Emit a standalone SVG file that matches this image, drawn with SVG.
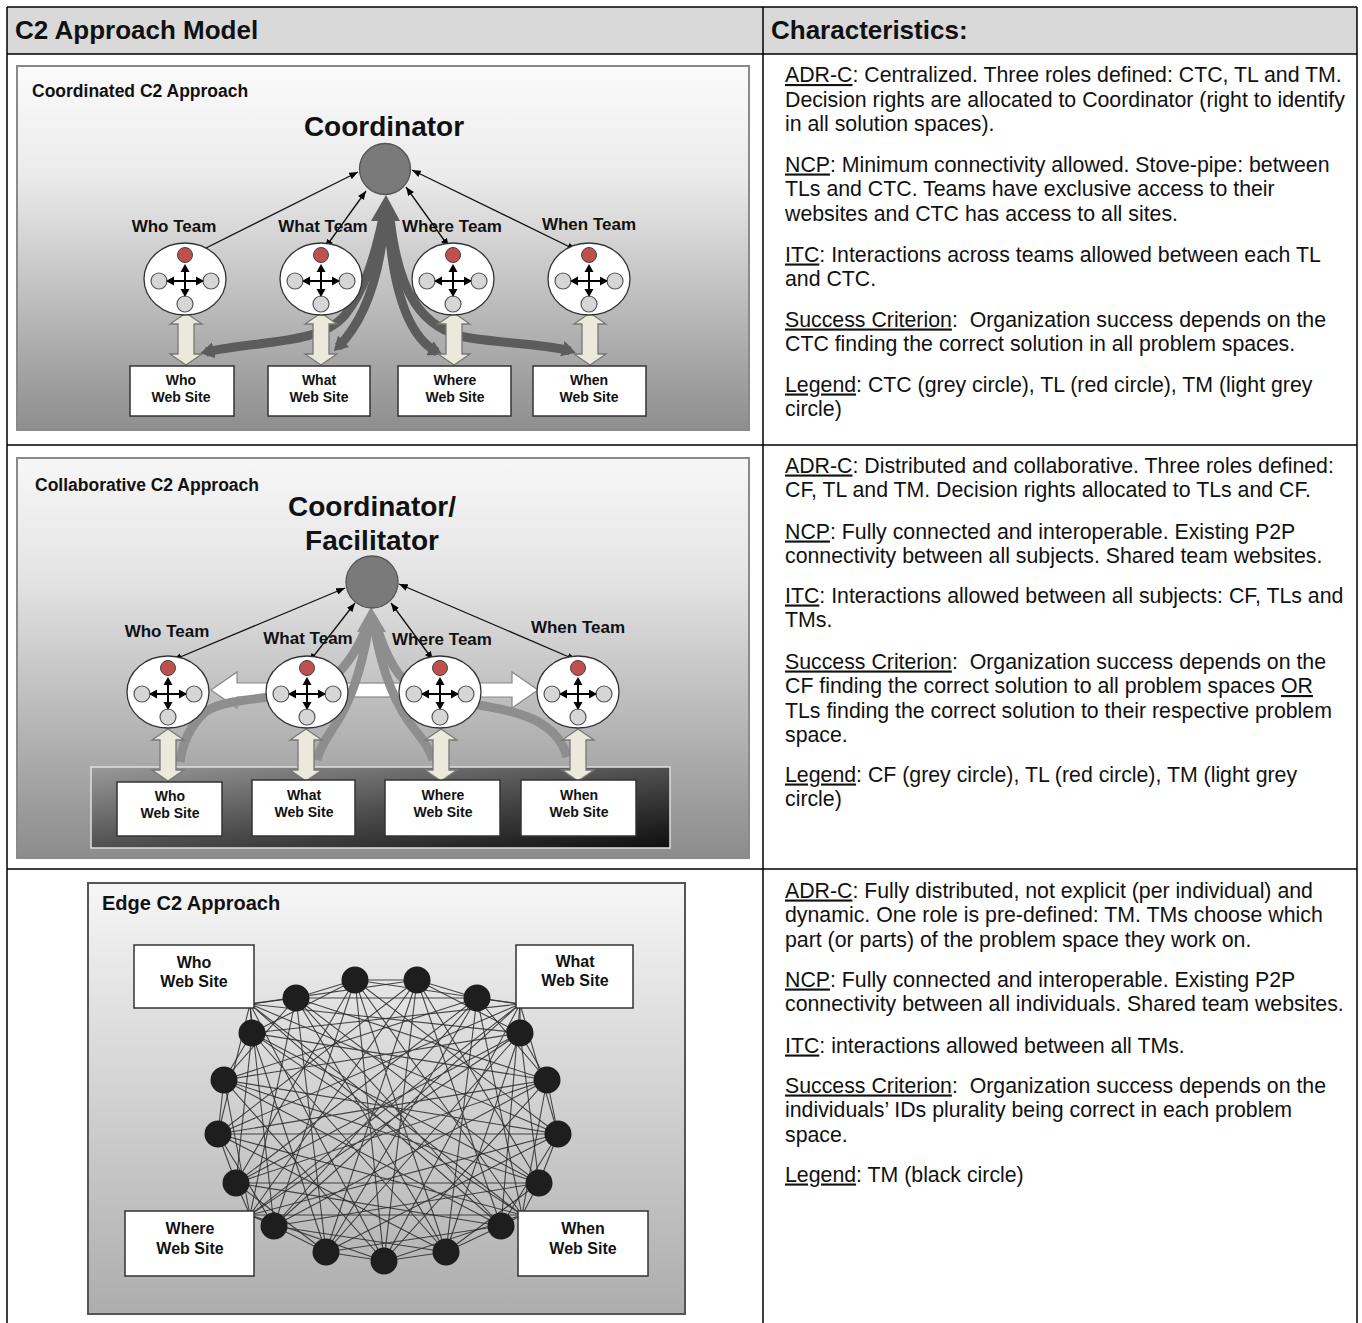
<svg xmlns="http://www.w3.org/2000/svg" xmlns:xlink="http://www.w3.org/1999/xlink" width="1362" height="1323" viewBox="0 0 1362 1323">
<style>
  .hdr{font-family:"Liberation Sans",Arial,sans-serif;font-weight:bold;font-size:26px;fill:#111}
  .body{font-family:"Liberation Sans",Arial,sans-serif;font-size:21.3px;fill:#111}
  .u{text-decoration:underline}
  .ttl{font-family:"Liberation Sans",Arial,sans-serif;font-weight:bold;font-size:17.5px;fill:#111}
  .big{font-family:"Liberation Sans",Arial,sans-serif;font-weight:bold;font-size:28px;fill:#111;text-anchor:middle}
  .team{font-family:"Liberation Sans",Arial,sans-serif;font-weight:bold;font-size:17px;fill:#111;text-anchor:middle}
  .site{font-family:"Liberation Sans",Arial,sans-serif;font-weight:bold;font-size:14px;fill:#111;text-anchor:middle}
  .site3{font-family:"Liberation Sans",Arial,sans-serif;font-weight:bold;font-size:16px;fill:#111;text-anchor:middle}
  .box{fill:#fff;stroke:#333;stroke-width:1.5}
  .tm{fill:#d6d6d6;stroke:#555;stroke-width:1.2}
  .thin{fill:none;stroke:#111;stroke-width:1.3;marker-start:url(#ah);marker-end:url(#ah)}
  .band1{fill:none;stroke:#5c5c5c;stroke-width:9}
  .band2{fill:none;stroke:#8e8e8e;stroke-width:9}
  .web{fill:none;stroke:#2a2a2a;stroke-width:1.1;stroke-opacity:0.85;stroke-linejoin:round}
  .tmb{fill:#1e1e1e}
  .grid{stroke:#000;stroke-width:1.5;fill:none}
</style>
<defs>
  <linearGradient id="g1" x1="0" y1="0" x2="0" y2="1">
    <stop offset="0" stop-color="#fbfbfb"/><stop offset="0.3" stop-color="#ebebeb"/><stop offset="1" stop-color="#8e8e8e"/>
  </linearGradient>
  <linearGradient id="g2" x1="0" y1="0" x2="0" y2="1">
    <stop offset="0" stop-color="#f7f7f7"/><stop offset="0.3" stop-color="#e4e4e4"/><stop offset="1" stop-color="#8c8c8c"/>
  </linearGradient>
  <linearGradient id="g3" x1="0" y1="0" x2="0" y2="1">
    <stop offset="0" stop-color="#f6f6f6"/><stop offset="1" stop-color="#adadad"/>
  </linearGradient>
  <linearGradient id="gp" x1="0" y1="0" x2="1" y2="1">
    <stop offset="0" stop-color="#9a9a9a"/><stop offset="0.5" stop-color="#505050"/><stop offset="1" stop-color="#0e0e0e"/>
  </linearGradient>
  <marker id="ah" viewBox="0 0 10 8" refX="10" refY="4" markerWidth="9" markerHeight="7" markerUnits="userSpaceOnUse" orient="auto-start-reverse">
    <path d="M0,0 L10,4 L0,8 Z" fill="#000"/>
  </marker>
  <marker id="bh" viewBox="0 0 14 16" refX="8" refY="8" markerWidth="14" markerHeight="16" markerUnits="userSpaceOnUse" orient="auto">
    <path d="M0,0 L14,8 L0,16 Z" fill="#5c5c5c"/>
  </marker>
  <g id="teamT">
    <ellipse rx="41" ry="36" fill="#fff" stroke="#333" stroke-width="1.3"/>
    <circle cx="0" cy="-24" r="7.5" fill="#c0504d" stroke="#444" stroke-width="1"/>
    <circle cx="-26" cy="2" r="8" class="tm"/>
    <circle cx="26" cy="2" r="8" class="tm"/>
    <circle cx="0" cy="25" r="8" class="tm"/>
    <path d="M-12,2 H12 M0,-9 V13" stroke="#000" stroke-width="2"/>
    <path d="M-19,2 L-11,-2.5 L-11,6.5 Z M19,2 L11,-2.5 L11,6.5 Z M0,-15 L-4.5,-7 L4.5,-7 Z M0,18 L-4.5,10 L4.5,10 Z" fill="#000"/>
  </g>
  <path id="dblv" d="M0,0 L16,11 L8,11 L8,41 L16,41 L0,52 L-16,41 L-8,41 L-8,11 L-16,11 Z" fill="#ebe8dc" stroke="#777" stroke-width="1.3"/>
</defs>

<rect width="1362" height="1323" fill="#fff"/>

<!-- table -->
<g id="table">
  <rect x="7" y="7" width="1350" height="47" fill="#d9d9d9"/>
  <path class="grid" d="M7,7 H1357 M7,54 H1357 M7,445 H1357 M7,869 H1357 M7,7 V1330 M763,7 V1330 M1357,7 V1330"/>
  <text class="hdr" x="15" y="39">C2 Approach Model</text>
  <text class="hdr" x="771" y="39">Characteristics:</text>
</g>

<!-- Diagram 1: Coordinated -->
<g id="coordinated">
  <rect x="17" y="66" width="732" height="364" fill="url(#g1)" stroke="#8a8a8a" stroke-width="2"/>
  <text class="ttl" x="32" y="97">Coordinated C2 Approach</text>
  <text class="big" x="384" y="136">Coordinator</text>
  <g id="c1-connectors">
    <path class="band1" d="M383,218 C375,255 365,290 345,315 C320,345 260,340 206,352" marker-end="url(#bh)"/>
    <path class="band1" d="M385,218 C380,275 365,320 338,347" marker-end="url(#bh)"/>
    <path class="band1" d="M388,218 C392,280 405,335 437,352" marker-end="url(#bh)"/>
    <path class="band1" d="M390,218 C398,290 420,330 470,338 C520,345 550,345 570,351" marker-end="url(#bh)"/>
    <polygon points="371,221 400,221 386,195" fill="#5c5c5c"/>
    <line class="thin" x1="358" y1="172" x2="196" y2="253"/>
    <line class="thin" x1="366" y1="191" x2="325" y2="248"/>
    <line class="thin" x1="406" y1="187" x2="449" y2="247"/>
    <line class="thin" x1="412" y1="170" x2="576" y2="250"/>
    <use href="#dblv" x="186" y="313"/>
    <use href="#dblv" x="321" y="313"/>
    <use href="#dblv" x="454" y="313"/>
    <use href="#dblv" x="590" y="313"/>
  </g>
  <g id="c1-coordinator"><circle cx="385" cy="169" r="25.5" fill="#7a7a7a" stroke="#555" stroke-width="1.3"/></g>
  <g id="c1-who"><use href="#teamT" x="185" y="279"/><text class="team" x="174" y="232">Who Team</text></g>
  <g id="c1-what"><use href="#teamT" x="321" y="279"/><text class="team" x="323" y="232">What Team</text></g>
  <g id="c1-where"><use href="#teamT" x="453" y="279"/><text class="team" x="452" y="232">Where Team</text></g>
  <g id="c1-when"><use href="#teamT" x="589" y="279"/><text class="team" x="589" y="230">When Team</text></g>
  <g id="c1-whosite"><rect class="box" x="130" y="366" width="104" height="50"/><text class="site" x="181" y="385">Who</text><text class="site" x="181" y="402">Web Site</text></g>
  <g id="c1-whatsite"><rect class="box" x="268" y="366" width="102" height="50"/><text class="site" x="319" y="385">What</text><text class="site" x="319" y="402">Web Site</text></g>
  <g id="c1-wheresite"><rect class="box" x="398" y="366" width="113" height="50"/><text class="site" x="455" y="385">Where</text><text class="site" x="455" y="402">Web Site</text></g>
  <g id="c1-whensite"><rect class="box" x="533" y="366" width="113" height="50"/><text class="site" x="589" y="385">When</text><text class="site" x="589" y="402">Web Site</text></g>
</g>

<!-- Diagram 2: Collaborative -->
<g id="collaborative">
  <rect x="17" y="458" width="732" height="400" fill="url(#g2)" stroke="#8a8a8a" stroke-width="2"/>
  <text class="ttl" x="35" y="491">Collaborative C2 Approach</text>
  <text class="big" x="372" y="516">Coordinator/</text>
  <text class="big" x="372" y="550">Facilitator</text>
  <rect x="91" y="767" width="579" height="81" fill="url(#gp)" stroke="#e0e0e0" stroke-width="1.5"/>
  <g id="c2-connectors">
    <polygon points="211,690 237,672 237,683 272,683 272,697 237,697 237,708" fill="#fff" stroke="#888" stroke-width="1.2"/>
    <rect x="344" y="683" width="60" height="14" fill="#fff" stroke="#888" stroke-width="1.2"/>
    <polygon points="538,690 512,672 512,683 478,683 478,697 512,697 512,708" fill="#fff" stroke="#888" stroke-width="1.2"/>
    <path class="band2" d="M365,631 C355,655 340,675 320,688 C290,700 230,695 205,712 C190,725 182,745 180,762"/>
    <path class="band2" d="M368,631 C362,665 352,700 335,725 C325,740 319,750 317,760"/>
    <path class="band2" d="M375,631 C382,670 395,705 415,730 C425,742 430,750 433,760"/>
    <path class="band2" d="M378,631 C388,660 400,690 440,700 C500,708 555,712 567,757"/>
    <polygon points="357,632 386,632 371,607" fill="#8e8e8e"/>
    <line class="thin" x1="345" y1="588" x2="173" y2="660"/>
    <line class="thin" x1="355" y1="603" x2="309" y2="662"/>
    <line class="thin" x1="391" y1="603" x2="433" y2="660"/>
    <line class="thin" x1="399" y1="584" x2="576" y2="660"/>
    <use href="#dblv" x="168" y="729"/>
    <use href="#dblv" x="306" y="729"/>
    <use href="#dblv" x="441" y="729"/>
    <use href="#dblv" x="578" y="729"/>
  </g>
  <g id="c2-coordinator"><circle cx="372" cy="582" r="26" fill="#7a7a7a" stroke="#555" stroke-width="1.3"/></g>
  <g id="c2-who"><use href="#teamT" x="168" y="692"/><text class="team" x="167" y="637">Who Team</text></g>
  <g id="c2-what"><use href="#teamT" x="307" y="692"/><text class="team" x="308" y="644">What Team</text></g>
  <g id="c2-where"><use href="#teamT" x="440" y="692"/><text class="team" x="442" y="645">Where Team</text></g>
  <g id="c2-when"><use href="#teamT" x="578" y="692"/><text class="team" x="578" y="633">When Team</text></g>
  <g id="c2-whosite"><rect class="box" x="117" y="782" width="105" height="54"/><text class="site" x="170" y="801">Who</text><text class="site" x="170" y="818">Web Site</text></g>
  <g id="c2-whatsite"><rect class="box" x="252" y="780" width="103" height="56"/><text class="site" x="304" y="800">What</text><text class="site" x="304" y="817">Web Site</text></g>
  <g id="c2-wheresite"><rect class="box" x="385" y="780" width="115" height="56"/><text class="site" x="443" y="800">Where</text><text class="site" x="443" y="817">Web Site</text></g>
  <g id="c2-whensite"><rect class="box" x="521" y="780" width="115" height="56"/><text class="site" x="579" y="800">When</text><text class="site" x="579" y="817">Web Site</text></g>
</g>

<!-- Diagram 3: Edge -->
<g id="edge">
  <rect x="88" y="883" width="597" height="431" fill="url(#g3)" stroke="#555" stroke-width="2"/>
  <text x="102" y="910" style="font-family:'Liberation Sans',Arial,sans-serif;font-weight:bold;font-size:20px;fill:#111">Edge C2 Approach</text>
  <g id="edge-connectors">
    <!-- ring (d=1) -->
    <polygon class="web" points="250,1004 296,998 355,980 417,980 477,998 520,1004 520,1033 547,1080 558,1134 539,1183 522,1215 501,1226 446,1252 384,1261 326,1252 274,1226 250,1215 236,1183 218,1134 224,1080 252,1033"/>
    <!-- d=3 -->
    <polygon class="web" points="250,1004 417,980 520,1033 539,1183 446,1252 274,1226 218,1134"/>
    <polygon class="web" points="296,998 477,998 547,1080 522,1215 384,1261 250,1215 224,1080"/>
    <polygon class="web" points="355,980 520,1004 558,1134 501,1226 326,1252 236,1183 252,1033"/>
    <!-- d=6 -->
    <polygon class="web" points="250,1004 520,1033 446,1252 218,1134 417,980 539,1183 274,1226"/>
    <polygon class="web" points="296,998 547,1080 384,1261 224,1080 477,998 522,1215 250,1215"/>
    <polygon class="web" points="355,980 558,1134 326,1252 252,1033 520,1004 501,1226 236,1183"/>
    <!-- d=8 -->
    <polygon class="web" points="250,1004 558,1134 250,1215 417,980 501,1226 224,1080 520,1033 326,1252 296,998 539,1183 236,1183 477,998 446,1252 252,1033 547,1080 274,1226 355,980 522,1215 218,1134 520,1004 384,1261"/>
    <!-- d=10 -->
    <polygon class="web" points="250,1004 522,1215 252,1033 539,1183 224,1080 558,1134 218,1134 547,1080 236,1183 520,1033 250,1215 520,1004 274,1226 477,998 326,1252 417,980 384,1261 355,980 446,1252 296,998 501,1226"/>
  </g>
  <g id="edge-tms">
    <circle class="tmb" cx="296" cy="998" r="13.5"/>
    <circle class="tmb" cx="355" cy="980" r="13.5"/>
    <circle class="tmb" cx="417" cy="980" r="13.5"/>
    <circle class="tmb" cx="477" cy="998" r="13.5"/>
    <circle class="tmb" cx="520" cy="1033" r="13.5"/>
    <circle class="tmb" cx="547" cy="1080" r="13.5"/>
    <circle class="tmb" cx="558" cy="1134" r="13.5"/>
    <circle class="tmb" cx="539" cy="1183" r="13.5"/>
    <circle class="tmb" cx="501" cy="1226" r="13.5"/>
    <circle class="tmb" cx="446" cy="1252" r="13.5"/>
    <circle class="tmb" cx="384" cy="1261" r="13.5"/>
    <circle class="tmb" cx="326" cy="1252" r="13.5"/>
    <circle class="tmb" cx="274" cy="1226" r="13.5"/>
    <circle class="tmb" cx="236" cy="1183" r="13.5"/>
    <circle class="tmb" cx="218" cy="1134" r="13.5"/>
    <circle class="tmb" cx="224" cy="1080" r="13.5"/>
    <circle class="tmb" cx="252" cy="1033" r="13.5"/>
  </g>
  <g id="e-whosite"><rect class="box" x="134" y="945" width="120" height="63"/><text class="site3" x="194" y="968">Who</text><text class="site3" x="194" y="987">Web Site</text></g>
  <g id="e-whatsite"><rect class="box" x="516" y="945" width="117" height="63"/><text class="site3" x="575" y="967">What</text><text class="site3" x="575" y="986">Web Site</text></g>
  <g id="e-wheresite"><rect class="box" x="125" y="1211" width="129" height="65"/><text class="site3" x="190" y="1234">Where</text><text class="site3" x="190" y="1254">Web Site</text></g>
  <g id="e-whensite"><rect class="box" x="518" y="1211" width="130" height="65"/><text class="site3" x="583" y="1234">When</text><text class="site3" x="583" y="1254">Web Site</text></g>
</g>

<!-- Characteristics texts -->
<g id="char1">
  <text class="body" x="785" y="82"><tspan class="u">ADR-C</tspan>: Centralized. Three roles defined: CTC, TL and TM.</text>
  <text class="body" x="785" y="106.5">Decision rights are allocated to Coordinator (right to identify</text>
  <text class="body" x="785" y="131">in all solution spaces).</text>
  <text class="body" x="785" y="171.5"><tspan class="u">NCP</tspan>: Minimum connectivity allowed. Stove-pipe: between</text>
  <text class="body" x="785" y="196">TLs and CTC. Teams have exclusive access to their</text>
  <text class="body" x="785" y="220.5">websites and CTC has access to all sites.</text>
  <text class="body" x="785" y="261.5"><tspan class="u">ITC</tspan>: Interactions across teams allowed between each TL</text>
  <text class="body" x="785" y="286">and CTC.</text>
  <text class="body" x="785" y="326.5"><tspan class="u">Success Criterion</tspan>:&#160; Organization success depends on the</text>
  <text class="body" x="785" y="351">CTC finding the correct solution in all problem spaces.</text>
  <text class="body" x="785" y="391.5"><tspan class="u">Legend</tspan>: CTC (grey circle), TL (red circle), TM (light grey</text>
  <text class="body" x="785" y="416">circle)</text>
</g>
<g id="char2">
  <text class="body" x="785" y="472.5"><tspan class="u">ADR-C</tspan>: Distributed and collaborative. Three roles defined:</text>
  <text class="body" x="785" y="497">CF, TL and TM. Decision rights allocated to TLs and CF.</text>
  <text class="body" x="785" y="538.5"><tspan class="u">NCP</tspan>: Fully connected and interoperable. Existing P2P</text>
  <text class="body" x="785" y="563">connectivity between all subjects. Shared team websites.</text>
  <text class="body" x="785" y="602.5"><tspan class="u">ITC</tspan>: Interactions allowed between all subjects: CF, TLs and</text>
  <text class="body" x="785" y="627">TMs.</text>
  <text class="body" x="785" y="668.5"><tspan class="u">Success Criterion</tspan>:&#160; Organization success depends on the</text>
  <text class="body" x="785" y="693">CF finding the correct solution to all problem spaces <tspan class="u">OR</tspan></text>
  <text class="body" x="785" y="717.5">TLs finding the correct solution to their respective problem</text>
  <text class="body" x="785" y="742">space.</text>
  <text class="body" x="785" y="781.5"><tspan class="u">Legend</tspan>: CF (grey circle), TL (red circle), TM (light grey</text>
  <text class="body" x="785" y="806">circle)</text>
</g>
<g id="char3">
  <text class="body" x="785" y="897.5"><tspan class="u">ADR-C</tspan>: Fully distributed, not explicit (per individual) and</text>
  <text class="body" x="785" y="922">dynamic. One role is pre-defined: TM. TMs choose which</text>
  <text class="body" x="785" y="946.5">part (or parts) of the problem space they work on.</text>
  <text class="body" x="785" y="986.5"><tspan class="u">NCP</tspan>: Fully connected and interoperable. Existing P2P</text>
  <text class="body" x="785" y="1011">connectivity between all individuals. Shared team websites.</text>
  <text class="body" x="785" y="1052.5"><tspan class="u">ITC</tspan>: interactions allowed between all TMs.</text>
  <text class="body" x="785" y="1092.5"><tspan class="u">Success Criterion</tspan>:&#160; Organization success depends on the</text>
  <text class="body" x="785" y="1117">individuals’ IDs plurality being correct in each problem</text>
  <text class="body" x="785" y="1141.5">space.</text>
  <text class="body" x="785" y="1181.5"><tspan class="u">Legend</tspan>: TM (black circle)</text>
</g>
</svg>
